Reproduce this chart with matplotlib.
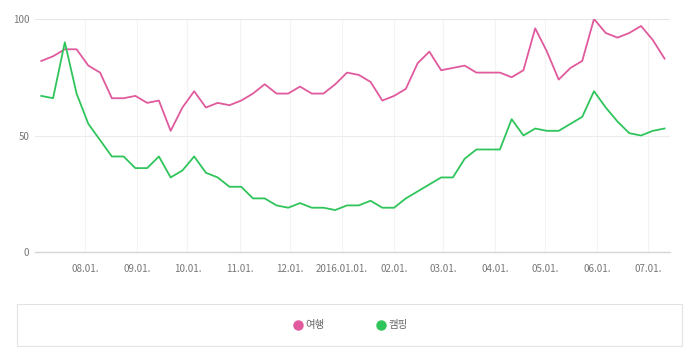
import matplotlib
matplotlib.use("Agg")
import matplotlib.pyplot as plt
import pandas as pd
from matplotlib.patches import Rectangle

plt.rcParams['font.family'] = ['Noto Sans CJK KR', 'DejaVu Sans']

# weekly points, 2015-07-06 .. 2016-07-11
dates = pd.date_range("2015-07-06", periods=54, freq="7D")

travel = [82, 84, 87, 87, 80, 77, 66, 66, 67, 64, 65, 52, 62, 69, 62, 64, 63, 65,
          68, 72, 68, 68, 71, 68, 68, 72, 77, 76, 73, 65, 67, 70, 81, 86, 78, 79,
          80, 77, 77, 77, 75, 78, 96, 86, 74, 79, 82, 100, 94, 92, 94, 97, 91, 83]
camping = [67, 66, 90, 68, 55, 48, 41, 41, 36, 36, 41, 32, 35, 41, 34, 32, 28, 28,
           23, 23, 20, 19, 21, 19, 19, 18, 20, 20, 22, 19, 19, 23, 26, 29, 32, 32,
           40, 44, 44, 44, 57, 50, 53, 52, 52, 55, 58, 69, 62, 56, 51, 50, 52, 53]

series_names = ["여행", "캠핑"]
colors = ["#e05a9d", "#2fc55b"]

tick_dates = pd.date_range("2015-08-01", "2016-07-01", freq="MS")
tick_labels = [d.strftime("%Y.%m.%d.") if d.month == 1 else d.strftime("%m.%d.") for d in tick_dates]

fig = plt.figure(figsize=(7, 3.47), dpi=100)
ax = fig.add_axes([35 / 700, 95 / 347, 635 / 700, 233 / 347])

ax.plot(dates, travel, color=colors[0], lw=1.3)
ax.plot(dates, camping, color=colors[1], lw=1.3)

ax.set_xlim(pd.Timestamp("2015-07-02 06:00"), pd.Timestamp("2016-07-14 06:00"))
ax.set_ylim(0, 100)
ax.set_yticks([0, 50, 100])
ax.set_xticks(tick_dates)
ax.set_xticklabels(tick_labels)

ax.tick_params(axis='both', length=0, labelsize=7, labelcolor="#777777")
ax.tick_params(axis='x', pad=9)
ax.tick_params(axis='y', pad=4)

# grid lines
for d in tick_dates:
    ax.axvline(d, color="#f3f3f3", lw=0.8, zorder=0)
ax.axhline(50, color="#ececec", lw=0.8, zorder=0)
ax.axhline(100, color="#e6e6e6", lw=1.5, zorder=0)

for s in ["top", "right", "left"]:
    ax.spines[s].set_visible(False)
ax.spines["bottom"].set_color("#d5d5d5")
ax.spines["bottom"].set_linewidth(1.0)

# legend box
fig.patches.append(Rectangle((17 / 700, 1 / 347), 665 / 700, 42 / 347,
                             transform=fig.transFigure, fill=False,
                             edgecolor="#e2e2e2", lw=0.8))
leg_y = (347 - 325) / 347
for name, c, x in zip(series_names, colors, [298, 381]):
    fig.lines.append(plt.Line2D([x / 700], [leg_y], transform=fig.transFigure,
                                marker="o", ms=6.5, color=c, lw=0))
    fig.text((x + 7) / 700, leg_y, name, fontsize=7.5, color="#666666",
             va="center", ha="left")

fig.savefig("out.png", dpi=100)
